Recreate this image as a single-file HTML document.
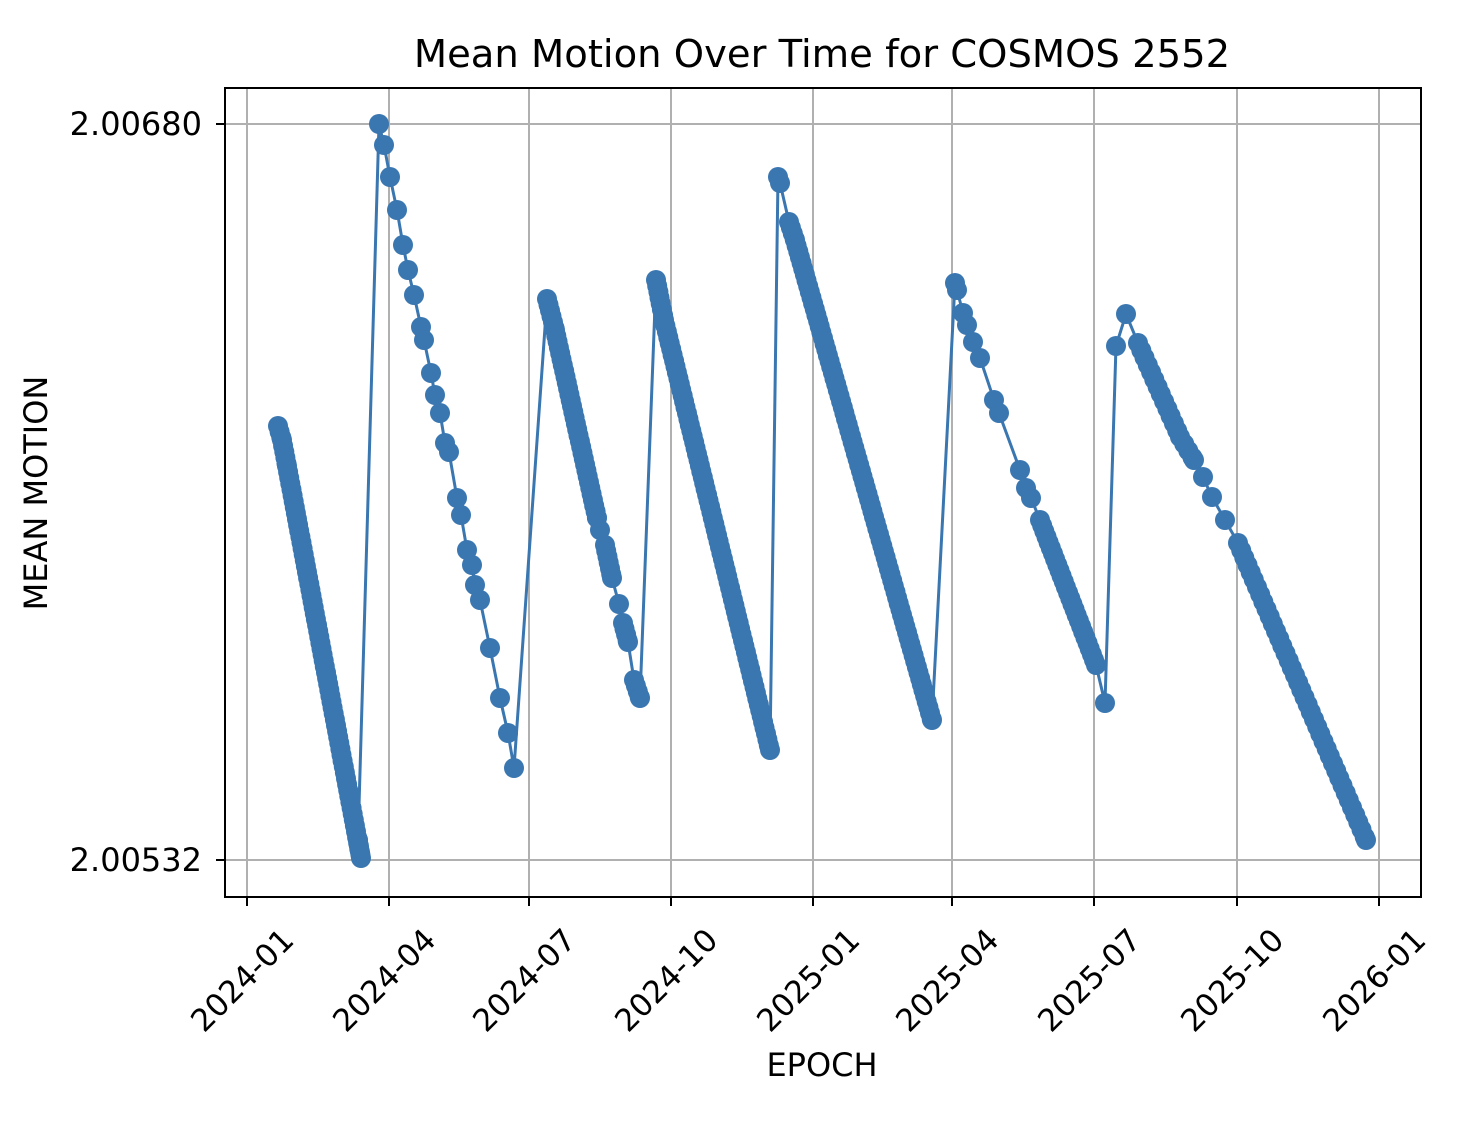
<!DOCTYPE html>
<html><head><meta charset="utf-8"><style>
html,body{margin:0;padding:0;background:#fff}
svg text{font-family:"DejaVu Sans","Liberation Sans",sans-serif;fill:#000}
</style></head><body>
<svg id="s" width="1464" height="1128" xmlns="http://www.w3.org/2000/svg">
<rect width="1464" height="1128" fill="#fff"/>
<g stroke="#b0b0b0" stroke-width="2">
<line x1="247" y1="88" x2="247" y2="897"/><line x1="389" y1="88" x2="389" y2="897"/>
<line x1="529" y1="88" x2="529" y2="897"/><line x1="671" y1="88" x2="671" y2="897"/>
<line x1="813" y1="88" x2="813" y2="897"/><line x1="952" y1="88" x2="952" y2="897"/>
<line x1="1094" y1="88" x2="1094" y2="897"/><line x1="1237" y1="88" x2="1237" y2="897"/>
<line x1="1379" y1="88" x2="1379" y2="897"/>
<line x1="225" y1="124" x2="1421" y2="124"/><line x1="225" y1="860" x2="1421" y2="860"/>
</g>
<g id="data"></g>
<rect x="225" y="88" width="1196" height="809" fill="none" stroke="#000" stroke-width="2"/>
<g stroke="#000" stroke-width="2">
<line x1="247" y1="897" x2="247" y2="906"/><line x1="389" y1="897" x2="389" y2="906"/>
<line x1="529" y1="897" x2="529" y2="906"/><line x1="671" y1="897" x2="671" y2="906"/>
<line x1="813" y1="897" x2="813" y2="906"/><line x1="952" y1="897" x2="952" y2="906"/>
<line x1="1094" y1="897" x2="1094" y2="906"/><line x1="1237" y1="897" x2="1237" y2="906"/>
<line x1="1379" y1="897" x2="1379" y2="906"/>
<line x1="216" y1="124" x2="225" y2="124"/><line x1="216" y1="860" x2="225" y2="860"/>
</g>
<g font-size="32" text-anchor="end">
<text x="202" y="135">2.00680</text><text x="202" y="871">2.00532</text>
</g>
<g font-size="31" text-anchor="middle">
<text transform="translate(242,980) rotate(-45)" dy="11">2024-01</text>
<text transform="translate(384,980) rotate(-45)" dy="11">2024-04</text>
<text transform="translate(524,980) rotate(-45)" dy="11">2024-07</text>
<text transform="translate(666,980) rotate(-45)" dy="11">2024-10</text>
<text transform="translate(808,980) rotate(-45)" dy="11">2025-01</text>
<text transform="translate(947,980) rotate(-45)" dy="11">2025-04</text>
<text transform="translate(1089,980) rotate(-45)" dy="11">2025-07</text>
<text transform="translate(1232,980) rotate(-45)" dy="11">2025-10</text>
<text transform="translate(1374,980) rotate(-45)" dy="11">2026-01</text>
</g>
<text x="822" y="67" font-size="38.5" text-anchor="middle">Mean Motion Over Time for COSMOS 2552</text>
<text x="822" y="1076" font-size="32" text-anchor="middle">EPOCH</text>
<text transform="translate(47,493) rotate(-90)" font-size="32" text-anchor="middle">MEAN MOTION</text>
</svg>
<script>
var segs=[
 [[278,426,6],[282,440,6],[287,466,6],[361,858,6],[358,840,0]],
 [[379,124,0],[384,145,0],[390,177,0],[397,210,0],[403,245,0],[408,270,0],[414,295,0],[421,327,0],[424,340,0],[431,373,0],[435,395,0],[440,413,0],[445,443,0],[449,452,0],[457,498,0],[461,515,0],[467,550,0],[472,565,0],[475,585,0],[480,600,0],[490,648,0],[500,698,0],[508,733,0],[514,768,0]],
 [[547,299,6],[555,330,6],[597,518,0],[600,530,0],[605,545,6],[612,578,0],[619,604,0],[623,623,6],[628,642,0],[634,680,6],[640,698,0]],
 [[656,280,6],[664,320,6],[770,750,0]],
 [[778,177,0],[780,183,0],[789,222,6],[795,240,6],[932,720,0]],
 [[955,283,0],[957,290,0],[963,313,0],[967,325,0],[973,342,0],[980,358,0],[994,400,0],[999,413,0],[1020,470,0],[1026,488,0],[1031,498,0],[1040,520,6],[1096,665,0],[1105,703,0]],
 [[1116,346,0],[1126,314,0],[1138,343,8],[1180,437,8],[1194,460,0],[1203,477,0],[1212,497,0],[1225,520,0],[1238,543,8],[1366,840,0]]
];
var c="#3a76b0",all=[];segs.forEach(function(s){all=all.concat(s.map(p=>[p[0],p[1]]))});
var h='<polyline fill="none" stroke="'+c+'" stroke-width="3" points="'+all.map(p=>p.join(',')).join(' ')+'"/>';
function dot(x,y){h+='<circle cx="'+x.toFixed(1)+'" cy="'+y.toFixed(1)+'" r="10" fill="'+c+'"/>';}
segs.forEach(function(s){
 for(var k=0;k<s.length;k++){
  dot(s[k][0],s[k][1]);
  var step=s[k][2];
  if(step>0&&k<s.length-1){var a=s[k],b=s[k+1],d=Math.hypot(b[0]-a[0],b[1]-a[1]);
   for(var t=step;t<d;t+=step)dot(a[0]+(b[0]-a[0])*t/d,a[1]+(b[1]-a[1])*t/d);}
 }
});
document.getElementById('data').innerHTML=h;
</script>
</body></html>
